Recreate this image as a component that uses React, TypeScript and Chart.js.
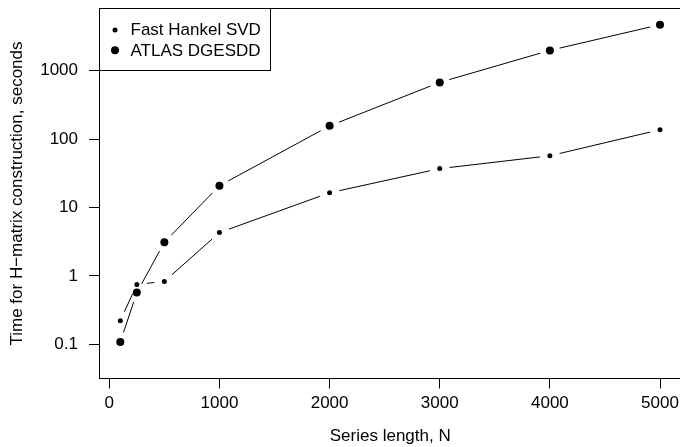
import React, { useEffect, useRef } from 'react';
import { Chart, registerables } from 'chart.js';

Chart.register(...registerables);

// ---- data ----
const seriesLengths = [100, 250, 500, 1000, 2000, 3000, 4000, 5000];
const fastHankelTimes = [0.22, 0.75, 0.83, 4.3, 16.4, 37, 57, 137];
const atlasTimes = [0.108, 0.57, 3.1, 20.8, 156, 674, 1980, 4700];
const seriesNames = ['Fast Hankel SVD', 'ATLAS DGESDD'];
const xTicks = [0, 1000, 2000, 3000, 4000, 5000];
const yTicks = [0.1, 1, 10, 100, 1000];
const xTitle = 'Series length, N';
const yTitle = 'Time for H\u2212matrix construction, seconds';

const FONT = "'Liberation Sans', Arial, Helvetica, sans-serif";
const FS = 17;
const GAP = 10;

const gapLines = {
  id: 'gapLines',
  beforeDatasetsDraw(chart: any) {
    const ctx = chart.ctx;
    const a = chart.chartArea;
    ctx.save();
    // plot box
    ctx.strokeStyle = '#000';
    ctx.lineWidth = 1;
    ctx.strokeRect(a.left + 0.5, a.top, a.right - a.left - 0.5, a.bottom - a.top);
    // lines with gaps around points (R type = "b")
    chart.data.datasets.forEach((_: any, i: number) => {
      const pts = chart.getDatasetMeta(i).data;
      for (let k = 0; k < pts.length - 1; k++) {
        const p = pts[k], q = pts[k + 1];
        const dx = q.x - p.x, dy = q.y - p.y;
        const d = Math.hypot(dx, dy);
        if (d <= 2 * GAP) continue;
        const ux = dx / d, uy = dy / d;
        ctx.beginPath();
        ctx.moveTo(p.x + ux * GAP, p.y + uy * GAP);
        ctx.lineTo(q.x - ux * GAP, q.y - uy * GAP);
        ctx.stroke();
      }
    });
    ctx.restore();
  },
};

const boxLegend = {
  id: 'boxLegend',
  afterDatasetsDraw(chart: any) {
    const ctx = chart.ctx;
    const a = chart.chartArea;
    ctx.save();
    ctx.strokeStyle = '#000';
    ctx.lineWidth = 1;
    ctx.fillStyle = '#fff';
    ctx.fillRect(a.left + 0.5, a.top, 171, 62);
    ctx.strokeRect(a.left + 0.5, a.top, 171, 62);
    ctx.font = `${FS}px ${FONT}`;
    ctx.textBaseline = 'alphabetic';
    ctx.textAlign = 'left';
    chart.data.datasets.forEach((ds: any, i: number) => {
      const cy = a.top + 21.5 + i * 20.3;
      ctx.fillStyle = '#000';
      ctx.beginPath();
      ctx.arc(a.left + 16, cy, ds.pointRadius, 0, Math.PI * 2);
      ctx.fill();
      ctx.fillText(ds.label, a.left + 31.5, cy + 5.3);
    });
    ctx.restore();
  },
};

export default function App() {
  const ref = useRef<HTMLCanvasElement>(null);

  useEffect(() => {
    if (!ref.current) return;
    const font = { family: FONT, size: FS };
    const chart = new Chart(ref.current, {
      type: 'scatter',
      data: {
        datasets: [
          {
            label: seriesNames[0],
            data: seriesLengths.map((x, i) => ({ x, y: fastHankelTimes[i] })),
            showLine: false,
            pointRadius: 2.5,
            pointBorderWidth: 0,
            pointBackgroundColor: '#000',
            borderColor: '#000',
          },
          {
            label: seriesNames[1],
            data: seriesLengths.map((x, i) => ({ x, y: atlasTimes[i] })),
            showLine: false,
            pointRadius: 4,
            pointBorderWidth: 0,
            pointBackgroundColor: '#000',
            borderColor: '#000',
          },
        ],
      },
      options: {
        animation: false,
        responsive: false,
        devicePixelRatio: 1,
        events: [],
        layout: { padding: { left: 0, top: 8.5, right: 8.5, bottom: 0 } },
        plugins: { legend: { display: false }, tooltip: { enabled: false } },
        scales: {
          x: {
            type: 'linear',
            min: -93.5,
            max: 5195,
            afterBuildTicks: (s: any) => {
              s.ticks = xTicks.map((v) => ({ value: v }));
            },
            afterFit: (s: any) => {
              s.height = 68.5;
              s.paddingLeft = 0;
              s.paddingRight = 0;
            },
            grid: { drawOnChartArea: false, drawTicks: true, tickLength: 10, color: '#000', lineWidth: 1 },
            border: { display: false },
            ticks: {
              padding: 5,
              font,
              color: '#000',
              maxRotation: 0,
              autoSkip: false,
              callback: (v: any) => String(v),
            },
            title: { display: true, text: xTitle, font, color: '#000', padding: { top: 0, bottom: 0 } },
          },
          y: {
            type: 'logarithmic',
            min: 0.0316,
            max: 8110,
            afterBuildTicks: (s: any) => {
              s.ticks = yTicks.map((v) => ({ value: v }));
            },
            afterFit: (s: any) => {
              s.width = 99;
              s.paddingTop = 0;
              s.paddingBottom = 0;
            },
            grid: { drawOnChartArea: false, drawTicks: true, tickLength: 10, color: '#000', lineWidth: 1 },
            border: { display: false },
            ticks: {
              padding: 11,
              font,
              color: '#000',
              autoSkip: false,
              callback: (v: any) => String(v),
            },
            title: { display: true, text: yTitle, font, color: '#000', padding: { top: 7, bottom: 0 } },
          },
        },
      } as any,
      plugins: [gapLines, boxLegend],
    });
    return () => chart.destroy();
  }, []);

  return (
    <div
      style={{
        position: 'fixed',
        left: 0,
        top: 0,
        width: 680,
        height: 447,
        overflow: 'hidden',
        background: '#fff',
      }}
    >
      <canvas ref={ref} width={690} height={447} style={{ display: 'block', width: 690, height: 447 }} />
    </div>
  );
}
